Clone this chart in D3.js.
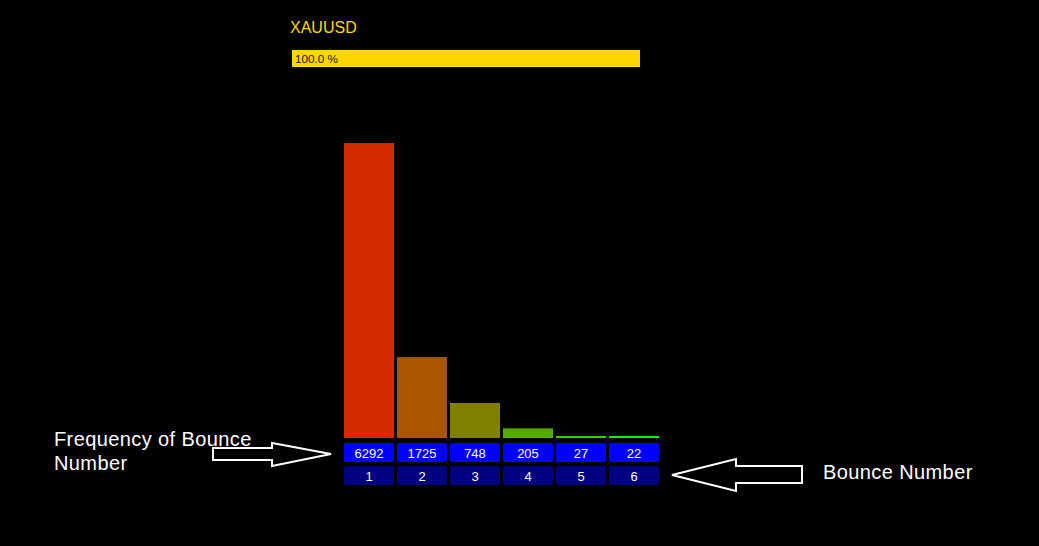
<!DOCTYPE html>
<html>
<head>
<meta charset="utf-8">
<script src="https://cdn.jsdelivr.net/npm/d3@7"></script>
<style>
  html, body { margin: 0; padding: 0; background: #000; }
  svg { display: block; font-family: "Liberation Sans", Arial, sans-serif; }
</style>
</head>
<body>
<svg id="chart" width="1039" height="546"></svg>
<script>
// chart data
const symbol = 'XAUUSD';
const progressLabel = '100.0 %';
const bounceNumbers = [1, 2, 3, 4, 5, 6];
const frequencies = [6292, 1725, 748, 205, 27, 22];
const barColors = ['#d42a00', '#aa5500', '#808000', '#55aa00', '#2ad400', '#00ff00'];

const svg = d3.select('#chart');
const width = +svg.attr('width');
const height = +svg.attr('height');

svg.append('rect')
    .attr('width', width)
    .attr('height', height)
    .attr('fill', '#000');

// header
svg.append('text')
    .attr('x', 290)
    .attr('y', 33)
    .attr('fill', '#ffd700')
    .style('font-size', '16px')
    .text(symbol);

svg.append('rect')
    .attr('x', 292)
    .attr('y', 50)
    .attr('width', 348)
    .attr('height', 17)
    .attr('fill', '#ffd700');

svg.append('text')
    .attr('x', 295)
    .attr('y', 63)
    .attr('fill', '#1a1500')
    .style('font-size', '11.7px')
    .text(progressLabel);

// bars
const data = bounceNumbers.map((b, i) => ({ bounce: b, freq: frequencies[i], color: barColors[i] }));

const xScale = d3.scaleBand()
    .domain(bounceNumbers)
    .range([344, 659])
    .paddingInner(3 / 53)
    .paddingOuter(0);

const yScale = d3.scaleLinear()
    .domain([0, d3.max(frequencies)])
    .range([438, 143]);

const minH = 2;

svg.selectAll('rect.bar').data(data)
    .enter().append('rect')
    .attr('class', 'bar')
    .attr('x', d => xScale(d.bounce))
    .attr('width', xScale.bandwidth())
    .attr('y', d => Math.min(yScale(d.freq), yScale(0) - minH))
    .attr('height', d => Math.max(yScale(0) - yScale(d.freq), minH))
    .attr('fill', d => d.color);

// frequency boxes
svg.selectAll('rect.freq').data(data)
    .enter().append('rect')
    .attr('class', 'freq')
    .attr('x', d => xScale(d.bounce))
    .attr('y', 443)
    .attr('width', xScale.bandwidth())
    .attr('height', 19)
    .attr('rx', 2)
    .attr('fill', '#0000ff');

svg.selectAll('text.freq').data(data)
    .enter().append('text')
    .attr('class', 'freq')
    .attr('x', d => xScale(d.bounce) + xScale.bandwidth() / 2)
    .attr('y', 457.5)
    .attr('text-anchor', 'middle')
    .attr('fill', '#fff')
    .style('font-size', '13px')
    .text(d => d.freq);

// bounce number boxes
svg.selectAll('rect.num').data(data)
    .enter().append('rect')
    .attr('class', 'num')
    .attr('x', d => xScale(d.bounce))
    .attr('y', 466)
    .attr('width', xScale.bandwidth())
    .attr('height', 19)
    .attr('rx', 2)
    .attr('fill', '#000080');

svg.selectAll('text.num').data(data)
    .enter().append('text')
    .attr('class', 'num')
    .attr('x', d => xScale(d.bounce) + xScale.bandwidth() / 2)
    .attr('y', 480.5)
    .attr('text-anchor', 'middle')
    .attr('fill', '#fff')
    .style('font-size', '13px')
    .text(d => d.bounce);

// annotations
const note = svg.append('g')
    .attr('fill', '#fff')
    .style('font-size', '20px')
    .style('letter-spacing', '0.4px');
note.append('text').attr('x', 54).attr('y', 446).text('Frequency of Bounce');
note.append('text').attr('x', 54).attr('y', 470).text('Number');
note.append('text').attr('x', 823).attr('y', 479).text('Bounce Number');

const line = d3.line();
svg.append('path')
    .attr('d', line([[213, 448], [272, 448], [272, 443], [331, 454], [272, 466], [272, 460], [213, 460]]) + 'Z')
    .attr('fill', 'none')
    .attr('stroke', '#fff')
    .attr('stroke-width', 2);

svg.append('path')
    .attr('d', line([[802, 466], [736, 466], [736, 459], [672, 475], [736, 491], [736, 483], [802, 483]]) + 'Z')
    .attr('fill', 'none')
    .attr('stroke', '#fff')
    .attr('stroke-width', 2);
</script>
</body>
</html>
